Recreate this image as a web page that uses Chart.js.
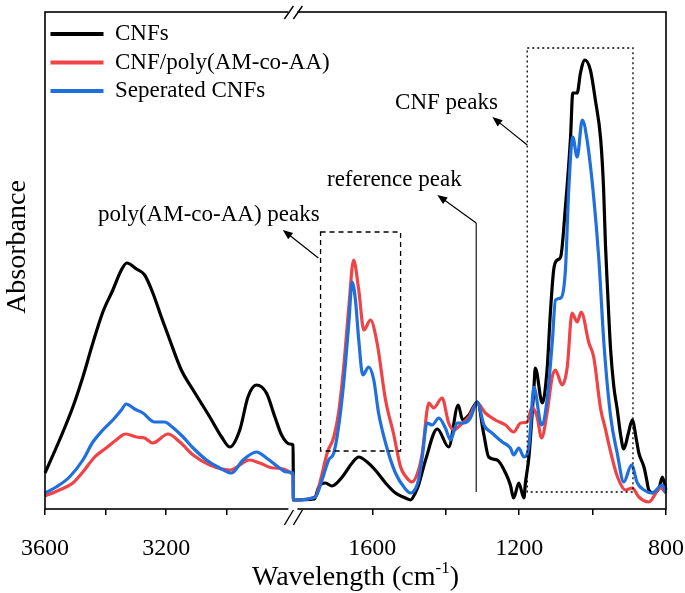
<!DOCTYPE html>
<html>
<head>
<meta charset="utf-8">
<script src="https://cdn.jsdelivr.net/npm/chart.js@4.4.1/dist/chart.umd.min.js"></script>
<style>
html, body { margin: 0; padding: 0; background: #fff; }
</style>
</head>
<body>
<canvas id="graficaFTIR" width="685" height="593"></canvas>
<script>
// ======================
// DATOS
// ======================
const nombres = ["CNFs", "CNF/poly(AM-co-AA)", "Seperated CNFs"];
const colores = ["#000000", "#EF4346", "#1F6FDE"];

const cnfWn = [3600, 3552, 3508, 3475, 3442, 3409, 3376, 3348, 3330, 3298, 3271, 3244, 3216, 3188, 3150, 3111, 3056, 3017, 2990, 2957, 2930, 2902, 2869, 2841, 2819, 2792, 2781,
  1815, 1758, 1746, 1728, 1710, 1682, 1655, 1637, 1614, 1592, 1564, 1537, 1510, 1496, 1483, 1474, 1455, 1423, 1392, 1366, 1354, 1337, 1314, 1296, 1283, 1260, 1237, 1224, 1215, 1201, 1187, 1183, 1174, 1169, 1160, 1156, 1137, 1124, 1115, 1106, 1096, 1087, 1074, 1060, 1054, 1042, 1033, 1021, 1006, 992, 978, 970, 965, 960, 951, 942, 933, 924, 915, 903, 892, 880, 874, 860, 853, 847, 833, 818, 810, 800];
const cnfAbs = [36, 69, 102, 132, 166, 197, 219, 239, 246, 240, 234, 216, 192, 169, 139, 119, 92, 72, 62, 79, 112, 124, 116, 92, 74, 65, 64,
  9, 10, 22, 26, 23, 32, 46, 52, 47, 39, 26, 16, 11, 9, 16, 24, 49, 80, 62, 104, 89, 94, 107, 74, 52, 49, 36, 24, 11, 26, 11, 26, 50, 72, 120, 141, 106, 139, 196, 239, 249, 252, 302, 372, 416, 416, 436, 449, 439, 408, 370, 320, 265, 225, 160, 122, 100, 75, 60, 75, 89, 68, 56, 42, 30, 19, 16, 22, 32, 19];

const polyWn = [3600, 3552, 3508, 3475, 3436, 3398, 3365, 3334, 3298, 3271, 3244, 3194, 3155, 3111, 3056, 2990, 2924, 2891, 2847, 2781,
  1815, 1755, 1741, 1723, 1705, 1692, 1678, 1664, 1651, 1637, 1623, 1605, 1587, 1564, 1542, 1523, 1510, 1492, 1474, 1464, 1446, 1433, 1410, 1392, 1378, 1360, 1337, 1314, 1292, 1265, 1237, 1215, 1196, 1178, 1165, 1151, 1139, 1124, 1110, 1101, 1083, 1069, 1056, 1042, 1031, 1010, 997, 978, 965, 956, 933, 910, 892, 874, 847, 815, 800];
const polyAbs = [13, 19, 26, 37, 52, 61, 69, 75, 72, 71, 66, 75, 67, 54, 44, 39, 49, 46, 41, 34,
  9, 12, 29, 56, 72, 96, 142, 202, 249, 219, 179, 189, 166, 109, 75, 42, 33, 27, 39, 56, 106, 101, 111, 86, 79, 84, 92, 106, 96, 89, 84, 77, 86, 87, 102, 92, 71, 96, 132, 139, 124, 142, 196, 187, 197, 166, 152, 100, 80, 65, 33, 19, 21, 12, 7, 21, 16];

const sepWn = [3600, 3563, 3519, 3475, 3442, 3409, 3376, 3348, 3332, 3304, 3277, 3238, 3205, 3180, 3144, 3111, 3067, 3023, 2984, 2946, 2902, 2869, 2830, 2803, 2781,
  1815, 1755, 1737, 1719, 1705, 1692, 1678, 1664, 1655, 1646, 1637, 1626, 1610, 1596, 1583, 1564, 1537, 1510, 1496, 1474, 1464, 1451, 1437, 1419, 1401, 1387, 1369, 1351, 1333, 1314, 1296, 1274, 1246, 1224, 1215, 1201, 1187, 1174, 1169, 1160, 1139, 1124, 1110, 1101, 1087, 1074, 1065, 1054, 1042, 1028, 1015, 997, 983, 969, 951, 933, 915, 894, 878, 860, 838, 810, 800];
const sepAbs = [16, 22, 32, 49, 67, 79, 89, 99, 105, 100, 96, 87, 87, 82, 72, 61, 49, 41, 36, 49, 57, 51, 42, 37, 36,
  9, 12, 29, 49, 56, 82, 126, 186, 227, 209, 169, 134, 142, 129, 96, 66, 36, 20, 16, 29, 52, 86, 84, 91, 81, 69, 86, 86, 91, 107, 84, 76, 67, 61, 54, 61, 52, 62, 82, 122, 84, 109, 166, 209, 211, 239, 319, 372, 352, 389, 369, 312, 250, 165, 93, 56, 27, 44, 26, 19, 16, 24, 16];

const ticksWn = [3600, 3400, 3200, 3000, 1600, 1400, 1200, 1000, 800];
const etiquetasWn = [3600, 3200, 1600, 1200, 800];

// eje cortado: 3600-2780 a la izquierda, 1815-800 a la derecha
const WN_INI = 3600, WN_CORTE_IZQ = 2780, WN_CORTE_DER = 1815, WN_FIN = 800;
const FRACCION_IZQ = 0.4;

// ======================
// ESCALA CON CORTE
// ======================
class EscalaCortada extends Chart.LinearScale {
    determineDataLimits() {
        this.min = WN_FIN;
        this.max = WN_INI;
    }
    buildTicks() {
        return ticksWn.map(v => ({ value: v }));
    }
    getPixelForValue(v) {
        let f;
        if (v >= WN_CORTE_IZQ) {
            f = (WN_INI - v) / (WN_INI - WN_CORTE_IZQ) * FRACCION_IZQ;
        } else if (v <= WN_CORTE_DER) {
            f = FRACCION_IZQ + (WN_CORTE_DER - v) / (WN_CORTE_DER - WN_FIN) * (1 - FRACCION_IZQ);
        } else {
            f = FRACCION_IZQ;
        }
        return this.getPixelForDecimal(f);
    }
    getValueForPixel(p) {
        const f = this.getDecimalForPixel(p);
        if (f <= FRACCION_IZQ) return WN_INI - f / FRACCION_IZQ * (WN_INI - WN_CORTE_IZQ);
        return WN_CORTE_DER - (f - FRACCION_IZQ) / (1 - FRACCION_IZQ) * (WN_CORTE_DER - WN_FIN);
    }
}
EscalaCortada.id = "cortada";
EscalaCortada.defaults = Chart.LinearScale.defaults;
Chart.register(EscalaCortada);

// ======================
// ANOTACIONES
// ======================
const FUENTE = "'Liberation Serif', 'Times New Roman', serif";

function flecha(ctx, x1, y1, x2, y2) {
    const ang = Math.atan2(y2 - y1, x2 - x1);
    ctx.beginPath();
    ctx.moveTo(x1, y1);
    ctx.lineTo(x2 - 7 * Math.cos(ang), y2 - 7 * Math.sin(ang));
    ctx.stroke();
    ctx.beginPath();
    ctx.moveTo(x2, y2);
    ctx.lineTo(x2 - 10 * Math.cos(ang) + 4 * Math.sin(ang), y2 - 10 * Math.sin(ang) - 4 * Math.cos(ang));
    ctx.lineTo(x2 - 10 * Math.cos(ang) - 4 * Math.sin(ang), y2 - 10 * Math.sin(ang) + 4 * Math.cos(ang));
    ctx.closePath();
    ctx.fill();
}

const anotaciones = {
    id: "anotaciones",
    afterDraw(chart) {
        const { ctx, chartArea: a, scales: { x, y } } = chart;
        const px = w => x.getPixelForValue(w);
        const py = v => y.getPixelForValue(v);
        ctx.save();
        ctx.strokeStyle = "#000";
        ctx.fillStyle = "#000";

        // marco
        ctx.lineWidth = 1.6;
        ctx.strokeRect(a.left, a.top, a.right - a.left, a.bottom - a.top);

        // marcas de corte //
        const bx = px(WN_CORTE_IZQ);
        ctx.fillStyle = "#fff";
        ctx.fillRect(bx - 5, a.top - 2, 9, 4);
        ctx.fillRect(bx - 5, a.bottom - 2, 9, 4);
        ctx.fillStyle = "#000";
        ctx.lineWidth = 1.4;
        [[a.top - 6, a.top + 7], [a.bottom + 1, a.bottom + 16]].forEach(([y0, y1]) => {
            [-9, 0].forEach(dx => {
                ctx.beginPath();
                ctx.moveTo(bx + dx, y1);
                ctx.lineTo(bx + dx + 9, y0);
                ctx.stroke();
            });
        });

        // caja poly(AM-co-AA)
        ctx.lineWidth = 1.3;
        ctx.setLineDash([5, 4]);
        ctx.strokeRect(px(1741), py(277), px(1523) - px(1741), py(58) - py(277));
        // caja CNF
        ctx.setLineDash([2, 3]);
        ctx.strokeRect(px(1178), py(461), px(890) - px(1178), py(17) - py(461));
        ctx.setLineDash([]);

        // linea de referencia
        ctx.lineWidth = 1.1;
        ctx.beginPath();
        ctx.moveTo(px(1317), py(286));
        ctx.lineTo(px(1317), py(17));
        ctx.stroke();

        // flechas
        ctx.lineWidth = 1.2;
        flecha(ctx, px(1747), py(251), px(2815), py(279));
        flecha(ctx, px(1317), py(286), px(1423), py(314));
        flecha(ctx, px(1178), py(364), px(1273), py(392));

        // textos
        ctx.font = "23px " + FUENTE;
        ctx.textAlign = "center";
        ctx.textBaseline = "middle";
        ctx.fillText("poly(AM-co-AA) peaks", px(3059), py(294));
        ctx.fillText("reference peak", px(1540), py(329));
        ctx.fillText("CNF peaks", px(1398), py(406));

        // titulo eje x con superindice
        ctx.textBaseline = "alphabetic";
        ctx.textAlign = "left";
        ctx.font = "28px " + FUENTE;
        const t1 = "Wavelength (cm";
        const w1 = ctx.measureText(t1).width;
        ctx.font = "17px " + FUENTE;
        const w2 = ctx.measureText("-1").width;
        ctx.font = "28px " + FUENTE;
        const w3 = ctx.measureText(")").width;
        let xt = (a.left + a.right) / 2 - (w1 + w2 + w3) / 2;
        ctx.fillText(t1, xt, 585);
        ctx.font = "17px " + FUENTE;
        ctx.fillText("-1", xt + w1, 573);
        ctx.font = "28px " + FUENTE;
        ctx.fillText(")", xt + w1 + w2, 585);

        // titulo eje y
        ctx.translate(25, 247);
        ctx.rotate(-Math.PI / 2);
        ctx.textAlign = "center";
        ctx.fillText("Absorbance", 0, 0);
        ctx.restore();
    }
};

// ======================
// GRAFICA
// ======================
function serie(wn, abs) {
    return wn.map((w, i) => ({ x: w, y: abs[i] }));
}

Chart.defaults.font.family = FUENTE;
Chart.defaults.color = "#000";

const ctx = document.getElementById("graficaFTIR").getContext("2d");
const graficaFTIR = new Chart(ctx, {
    type: "line",
    data: {
        datasets: [
            { label: nombres[0], data: serie(cnfWn, cnfAbs), borderColor: colores[0], backgroundColor: colores[0], order: 2 },
            { label: nombres[1], data: serie(polyWn, polyAbs), borderColor: colores[1], backgroundColor: colores[1], order: 1 },
            { label: nombres[2], data: serie(sepWn, sepAbs), borderColor: colores[2], backgroundColor: colores[2], order: 0 }
        ]
    },
    options: {
        responsive: false,
        animation: false,
        devicePixelRatio: 1,
        layout: { padding: { left: 45, top: 12, right: 19, bottom: 0 } },
        elements: {
            point: { radius: 0 },
            line: { borderWidth: 3.2, cubicInterpolationMode: "monotone", fill: false }
        },
        scales: {
            x: {
                type: "cortada",
                position: "bottom",
                ticks: {
                    autoSkip: false,
                    maxRotation: 0,
                    padding: 19,
                    font: { size: 24 },
                    color: "#000",
                    callback: v => etiquetasWn.includes(v) ? String(v) : ""
                },
                grid: { drawOnChartArea: false, drawTicks: true, tickLength: 6, color: "#000", lineWidth: 1.5 },
                border: { display: false },
                afterFit: s => { s.height = 84; s.paddingLeft = 0; s.paddingRight = 0; }
            },
            y: {
                display: false,
                min: 0,
                max: 497
            }
        },
        plugins: {
            tooltip: { enabled: false },
            legend: {
                position: "chartArea",
                align: "start",
                title: { display: true, text: " ", font: { size: 10 }, padding: { top: 5, bottom: 0 } },
                labels: {
                    boxWidth: 53,
                    boxHeight: 4,
                    padding: 5.5,
                    font: { size: 23 },
                    color: "#000",
                    sort: (a, b) => a.datasetIndex - b.datasetIndex,
                    generateLabels: chart => Chart.defaults.plugins.legend.labels.generateLabels(chart)
                        .map(l => Object.assign(l, { lineWidth: 0, fillStyle: l.strokeStyle }))
                }
            }
        }
    },
    plugins: [anotaciones]
});
</script>
</body>
</html>
